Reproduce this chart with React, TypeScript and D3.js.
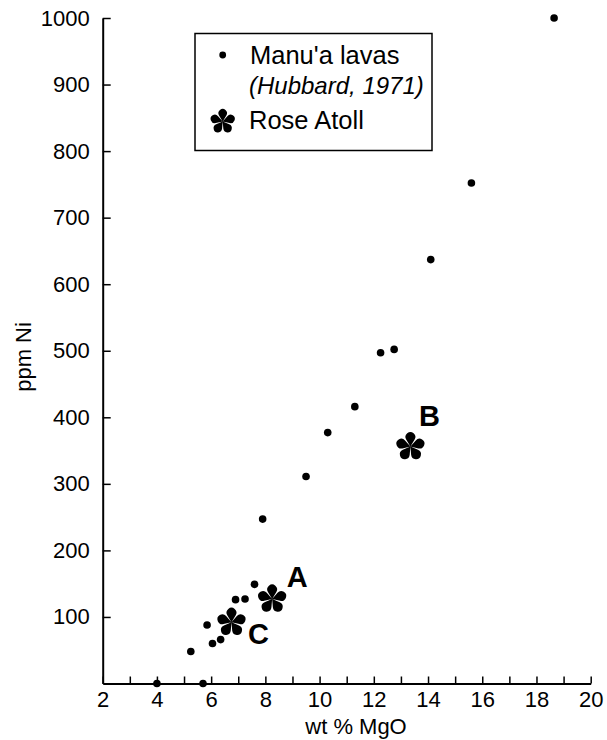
import * as d3 from 'd3';
import React, { useRef, useEffect } from 'react';

// Manu'a lavas (Hubbard, 1971)
const manuaMgO = [18.65, 15.6, 14.1, 12.75, 12.25, 11.3, 10.3, 9.5, 7.9, 7.6, 7.25, 6.9, 5.85, 6.35, 6.05, 5.25, 4.0, 5.7];
const manuaNi = [1000, 752, 637, 502, 497, 416, 377, 311, 247, 149, 127, 126, 88, 66, 60, 48, 0, 0];

// Rose Atoll samples
const roseNames = ['A', 'B', 'C'];
const roseMgO = [8.25, 13.35, 6.75];
const roseNi = [127, 356, 92];

const xTicks = d3.range(2, 21, 1);
const xLabels = [2, 4, 6, 8, 10, 12, 14, 16, 18, 20];
const yTicks = [100, 200, 300, 400, 500, 600, 700, 800, 900, 1000];

const legendLines = ["Manu'a lavas", '(Hubbard, 1971)', 'Rose Atoll'];

const FONT = "'Liberation Sans', Arial, Helvetica, sans-serif";

// 5-petal "flower" asterisk used for Rose Atoll samples
function flowerPath(cx: number, cy: number, size: number): string {
  const p = d3.path();
  const r = size * 0.34;
  const d = size - r;
  const beta = Math.acos(r / d);
  for (let k = 0; k < 5; k++) {
    const phi = -Math.PI / 2 + k * 2 * Math.PI / 5;
    const px = cx + d * Math.cos(phi);
    const py = cy + d * Math.sin(phi);
    const a0 = phi + Math.PI - beta;
    p.moveTo(cx, cy);
    p.lineTo(px + r * Math.cos(a0), py + r * Math.sin(a0));
    p.arc(px, py, r, a0, phi - Math.PI + beta, true);
    p.closePath();
  }
  return p.toString();
}

function App(): any {
  const ref = useRef(null);

  const width = 607;
  const height = 740;

  useEffect(() => {
    const svg = d3.select(ref.current);
    svg.selectAll('*').remove();

    const x = d3.scaleLinear().domain([2, 20]).range([102.7, 590.7]);
    const y = d3.scaleLinear().domain([0, 1000]).range([683.5, 18]);

    // x axis, ticks pointing inward
    const gx = svg.append('g')
      .attr('transform', 'translate(0,' + y(0) + ')')
      .call(d3.axisBottom(x)
        .tickValues(xTicks)
        .tickSizeInner(-7)
        .tickSizeOuter(0)
        .tickPadding(8)
        .tickFormat((d: any) => xLabels.includes(d) ? String(d) : ''));
    gx.attr('font-size', 22).attr('font-family', FONT);
    gx.select('.domain').attr('stroke-width', 2);
    gx.selectAll('.tick line').attr('stroke-width', 1.5);
    gx.selectAll('.tick text').attr('fill', '#000');

    const gy = svg.append('g')
      .attr('transform', 'translate(' + x(2) + ',0)')
      .call(d3.axisLeft(y)
        .tickValues(yTicks)
        .tickSizeInner(-8)
        .tickSizeOuter(0)
        .tickPadding(13)
        .tickFormat(d3.format('d')));
    gy.attr('font-size', 22).attr('font-family', FONT);
    gy.select('.domain').attr('stroke-width', 2);
    gy.selectAll('.tick line').attr('stroke-width', 1.5);
    gy.selectAll('.tick text').attr('fill', '#000');

    // axis titles
    svg.append('text')
      .attr('x', 356)
      .attr('y', 734)
      .attr('text-anchor', 'middle')
      .attr('font-family', FONT)
      .attr('font-size', 22)
      .text('wt % MgO');

    svg.append('text')
      .attr('transform', 'translate(31,357) rotate(-90)')
      .attr('text-anchor', 'middle')
      .attr('font-family', FONT)
      .attr('font-size', 22)
      .text('ppm Ni');

    // Manu'a lavas
    svg.append('g')
      .selectAll('circle')
      .data(manuaMgO)
      .join('circle')
      .attr('cx', (d: number) => x(d))
      .attr('cy', (_: number, i: number) => y(manuaNi[i]))
      .attr('r', 3.8)
      .attr('fill', '#000');

    // Rose Atoll
    const labelOffset: any = { A: [25, -12], B: [19, -21], C: [27, 22] };
    roseNames.forEach((name, i) => {
      const cx = x(roseMgO[i]);
      const cy = y(roseNi[i]);
      svg.append('path')
        .attr('d', flowerPath(cx, cy, 14.5))
        .attr('fill', '#000');
      svg.append('text')
        .attr('x', cx + labelOffset[name][0])
        .attr('y', cy + labelOffset[name][1])
        .attr('text-anchor', 'middle')
        .attr('font-family', FONT)
        .attr('font-weight', 'bold')
        .attr('font-size', 29)
        .text(name);
    });

    // legend
    const lg = svg.append('g');
    lg.append('rect')
      .attr('x', 195)
      .attr('y', 33.5)
      .attr('width', 237)
      .attr('height', 117)
      .attr('fill', 'white')
      .attr('stroke', '#000')
      .attr('stroke-width', 1.5);
    lg.append('circle')
      .attr('cx', 222.7)
      .attr('cy', 55)
      .attr('r', 3.4)
      .attr('fill', '#000');
    lg.append('text')
      .attr('x', 250)
      .attr('y', 63.5)
      .attr('font-family', FONT)
      .attr('font-size', 25.5)
      .text(legendLines[0]);
    lg.append('text')
      .attr('x', 249)
      .attr('y', 93.5)
      .attr('font-family', FONT)
      .attr('font-style', 'italic')
      .attr('font-size', 24)
      .text(legendLines[1]);
    lg.append('path')
      .attr('d', flowerPath(222.7, 121.5, 12.5))
      .attr('fill', '#000');
    lg.append('text')
      .attr('x', 249)
      .attr('y', 128.5)
      .attr('font-family', FONT)
      .attr('font-size', 25.5)
      .text(legendLines[2]);
  }, []);

  return (
    <svg
      ref={ref}
      width={width}
      height={height}
      style={{ position: 'absolute', left: 0, top: 0, background: 'white' }}
    />
  );
}

export default App;
